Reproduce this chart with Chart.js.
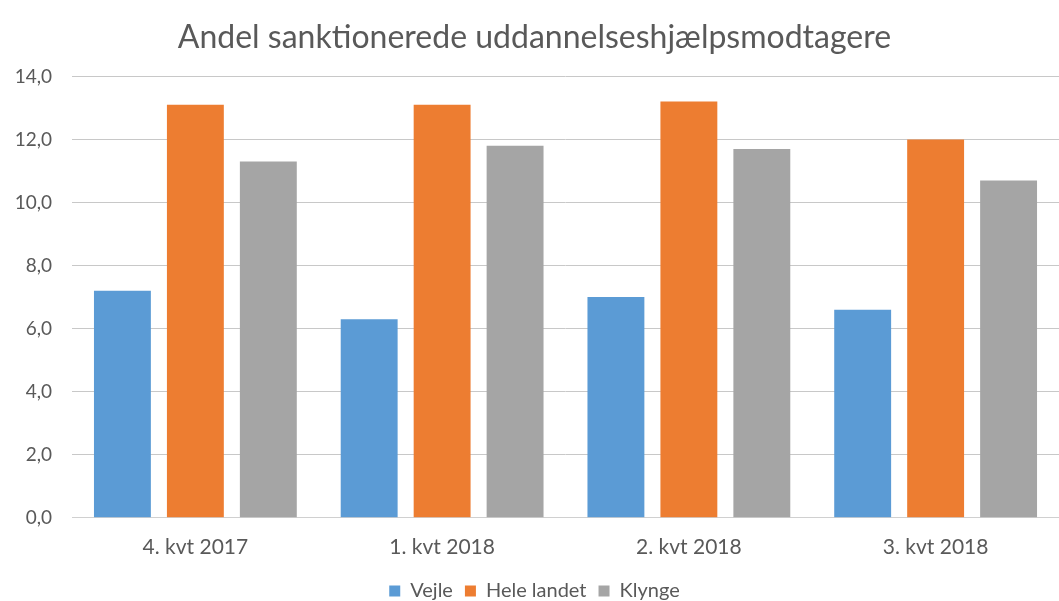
<!DOCTYPE html>
<html>
<head>
<meta charset="utf-8">
<script src="https://cdn.jsdelivr.net/npm/chart.js@4"></script>
<style>
  html, body { margin: 0; padding: 0; background: #ffffff; }
  #wrap { width: 1059px; height: 601px; position: relative; }
</style>
</head>
<body>
<div id="wrap"><canvas id="c"></canvas></div>
<script>
const categories = ["4. kvt 2017", "1. kvt 2018", "2. kvt 2018", "3. kvt 2018"];
const vejle = [7.2, 6.3, 7.0, 6.6];
const heleLandet = [13.1, 13.1, 13.2, 12.0];
const klynge = [11.3, 11.8, 11.7, 10.7];
const seriesNames = ["Vejle", "Hele landet", "Klynge"];
const titleText = "Andel sanktionerede uddannelseshjælpsmodtagere";

const FONT = "Lato, 'Open Sans', sans-serif";
const TXT = "#595959";

new Chart(document.getElementById('c'), {
  type: 'bar',
  data: {
    labels: categories,
    datasets: [
      { label: seriesNames[0], data: vejle, backgroundColor: '#5B9BD5' },
      { label: seriesNames[1], data: heleLandet, backgroundColor: '#ED7D31' },
      { label: seriesNames[2], data: klynge, backgroundColor: '#A5A5A5' }
    ]
  },
  options: {
    responsive: true,
    maintainAspectRatio: false,
    animation: false,
    categoryPercentage: 0.887,
    barPercentage: 0.78,
    layout: { padding: { left: 10, right: 0, top: 0, bottom: -10 } },
    plugins: {
      title: {
        display: true,
        text: titleText,
        color: TXT,
        font: { family: FONT, size: 32, weight: 'normal' },
        padding: { top: 18, bottom: 20 }
      },
      legend: {
        position: 'bottom',
        labels: {
          color: TXT,
          font: { family: FONT, size: 20 },
          boxWidth: 11,
          boxHeight: 11,
          padding: 12
        }
      },
      tooltip: { enabled: false }
    },
    scales: {
      x: {
        grid: { display: false, drawTicks: false },
        border: { display: true, color: '#d0d0d0' },
        ticks: { color: TXT, font: { family: FONT, size: 21 }, padding: 17 },
        afterFit: s => { s.height -= 8; }
      },
      y: {
        min: 0, max: 14,
        border: { display: false },
        grid: { color: '#c8c8c8', drawTicks: false, lineWidth: 1 },
        ticks: {
          stepSize: 2,
          color: TXT,
          font: { family: FONT, size: 19 },
          padding: 20,
          callback: v => v.toFixed(1).replace('.', ',')
        },
        afterFit: s => { s.width = 62; }
      }
    }
  }
});
</script>
</body>
</html>
